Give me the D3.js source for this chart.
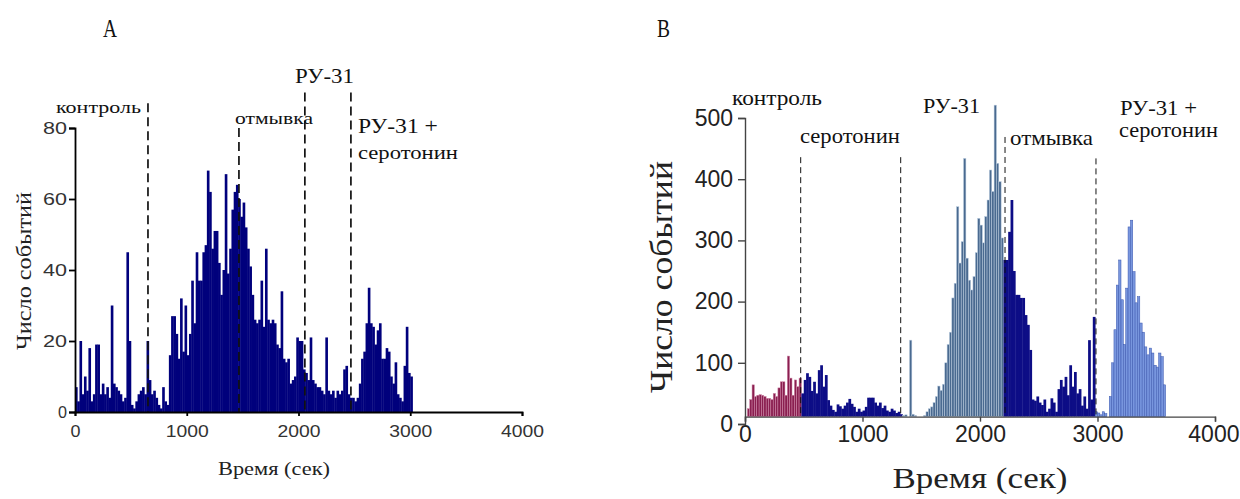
<!DOCTYPE html>
<html>
<head>
<meta charset="utf-8">
<script src="https://cdn.jsdelivr.net/npm/d3@7"></script>
<style>
  body { margin: 0; background: #fff; }
  svg { display: block; }
</style>
</head>
<body>
<div id="chart"></div>
<script>
const SERIF = "'Liberation Serif'";
const SANS = "'Liberation Sans'";

// ---- panel A : histogram, 20 s bins starting at 0 s
const binA = 20;
const countsA = [
  7, 3, 20, 5, 10, 6, 18, 3, 5, 19,
  19, 5, 8, 5, 7, 4, 30, 8, 7, 6,
  5, 3, 4, 45, 20, 2, 1, 3, 5, 6,
  7, 5, 20, 9, 5, 6, 4, 2, 1, 7,
  3, 2, 16, 27, 27, 22, 15, 32, 17, 30,
  16, 22, 37, 25, 45, 37, 37, 45, 47, 68,
  62, 46, 51, 51, 42, 33, 40, 67, 39, 46,
  57, 62, 64, 60, 55, 59, 52, 46, 41, 33,
  26, 25, 26, 37, 24, 46, 26, 25, 26, 25,
  19, 18, 34, 15, 14, 15, 8, 9, 10, 21,
  20, 20, 12, 11, 9, 21, 9, 8, 7, 7,
  6, 5, 21, 6, 5, 6, 4, 6, 5, 6,
  12, 13, 5, 4, 4, 3, 4, 8, 15, 17,
  25, 35, 25, 24, 19, 23, 25, 15, 15, 18,
  17, 10, 8, 14, 5, 4, 3, 13, 24, 11,
  10
];
const markersA = [653, 1467, 2057, 2469];     // dashed lines, seconds
const markerTopsA = [87, 80, 90, 90];         // where each dashed line starts (counts)
const labelsA = ["контроль", "отмывка", "РУ-31", "РУ-31 +", "серотонин"];
const ticksXA = [0, 1000, 2000, 3000, 4000];
const ticksYA = [0, 20, 40, 60, 80];

// ---- panel B : histogram, 20 s bins starting at 0 s
const binB = 20;
const countsB = [
  12, 25, 40, 64, 45, 47, 48, 47, 45, 42,
  42, 40, 50, 45, 59, 69, 69, 47, 111, 75,
  47, 72, 61, 75, 50, 72, 83, 77, 54, 69,
  50, 88, 96, 61, 80, 39, 30, 23, 20, 32,
  29, 25, 30, 35, 41, 33, 28, 20, 25, 20,
  22, 28, 43, 43, 43, 35, 30, 35, 26, 30,
  22, 20, 25, 22, 18, 20, 16, 14, 15, 12,
  137, 16, 14, 12, 10, 12, 14, 20, 25, 28,
  35, 45, 62, 55, 65, 100, 130, 150, 206, 230,
  355, 263, 298, 434, 271, 235, 219, 241, 280, 336,
  325, 296, 339, 366, 415, 380, 521, 426, 396, 304,
  268, 268, 314, 366, 250, 211, 211, 206, 206, 178,
  162, 121, 40, 38, 45, 35, 31, 40, 20, 25,
  42, 35, 20, 57, 72, 61, 77, 47, 96, 61,
  85, 50, 57, 30, 45, 25, 137, 40, 175, 20,
  18, 15, 20, 17, 12, 45, 100, 154, 227, 268,
  203, 130, 222, 322, 333, 249, 198, 208, 165, 150,
  126, 113, 124, 116, 96, 93, 116, 110, 64
];
const phaseStartsB = [0, 480, 1340, 2200, 2980];  // контроль, серотонин, РУ-31, отмывка, РУ-31 + серотонин
const markersB = [474, 1325, 2213, 2987];
const markerTopsB = [436, 436, 469, 434];
const labelsB = ["контроль", "серотонин", "РУ-31", "отмывка", "РУ-31 +", "серотонин"];
const ticksXB = [0, 1000, 2000, 3000, 4000];
const ticksYB = [0, 100, 200, 300, 400, 500];

const svg = d3.select("#chart").append("svg")
  .attr("width", 1240)
  .attr("height", 499);
svg.append("rect").attr("width", 1240).attr("height", 499).attr("fill", "#fff");

// serif text stretched to a given width (the source figure is scanned and stretched)
function note(g, str, x, y, size, len, anchor, rotate) {
  const t = g.append("text")
    .style("font-family", SERIF)
    .attr("font-size", size)
    .attr("fill", "#111")
    .attr("text-anchor", anchor || "start")
    .text(str);
  const w = t.node().getComputedTextLength();
  const sx = w > 0 ? len / w : 1;
  t.attr("transform", `translate(${x},${y})${rotate ? " rotate(-90)" : ""} scale(${sx},1)`);
  return t;
}

function styleAxis(g, color, width, fontSize, textColor) {
  g.attr("font-family", SANS);
  g.select(".domain").attr("stroke", color).attr("stroke-width", width);
  g.selectAll(".tick line").attr("stroke", color).attr("stroke-width", width);
  g.selectAll(".tick text")
    .attr("fill", textColor)
    .attr("font-size", fontSize);
}

// ================= panel A =================
const xA = d3.scaleLinear().domain([0, 4000]).range([75, 522]);
const yA = d3.scaleLinear().domain([0, 80]).range([412, 128]);
const gA = svg.append("g");

gA.selectAll(".barA")
  .data(countsA)
  .enter()
  .append("rect")
  .attr("class", "barA")
  .attr("x", (d, i) => xA(i * binA))
  .attr("width", xA(binA) - xA(0) + 0.4)
  .attr("y", d => yA(d))
  .attr("height", d => yA(0) - yA(d))
  .attr("fill", "#00007c");

gA.selectAll(".markA")
  .data(markersA)
  .enter()
  .append("line")
  .attr("class", "markA")
  .attr("x1", d => xA(d))
  .attr("x2", d => xA(d))
  .attr("y1", (d, i) => yA(markerTopsA[i]))
  .attr("y2", yA(0))
  .attr("stroke", "#111")
  .attr("stroke-width", 1.7)
  .attr("stroke-dasharray", "9,5");

const axAx = gA.append("g")
  .attr("transform", `translate(0,${yA(0)})`)
  .call(d3.axisBottom(xA).tickValues(ticksXA).tickSize(4).tickPadding(9).tickFormat(d3.format("d")));
styleAxis(axAx, "#000", 1.8, 17, "#333");

const axAy = gA.append("g")
  .attr("transform", `translate(${xA(0)},0)`)
  .call(d3.axisLeft(yA).tickValues(ticksYA).tickSize(6).tickPadding(2));
styleAxis(axAy, "#000", 1.8, 17, "#333");
axAy.selectAll(".tick text").attr("textLength", d => d < 10 ? 9 : 24).attr("lengthAdjust", "spacingAndGlyphs");
axAx.selectAll(".tick text").attr("textLength", d => d < 10 ? 10 : 43).attr("lengthAdjust", "spacingAndGlyphs");

note(gA, labelsA[0], 141, 113, 17, 85, "end");
note(gA, labelsA[1], 235, 124, 16, 78);
note(gA, labelsA[2], 295, 83, 21, 59);
note(gA, labelsA[3], 358, 133, 21, 80);
note(gA, labelsA[4], 358, 159, 19, 100);

note(gA, "Число событий", 31, 271, 22, 158, "middle", true).attr("fill", "#222");
note(gA, "Время (сек)", 274, 475, 19, 112, "middle").attr("fill", "#222");
note(gA, "A", 103, 37, 26, 14);

// ================= panel B =================
const xB = d3.scaleLinear().domain([0, 4000]).range([745, 1215]);
const yB = d3.scaleLinear().domain([0, 500]).range([424, 118]);
const baseB = yB(12);   // x axis is drawn a little above the zero line, as in the source
const gB = svg.append("g");

const phaseFill = ["#8a1f50", "#0d0d86", "#4a6a90", "#0d0d86", "#7896de"];
const phaseStroke = ["#cf8aa9", "none", "#bccde0", "none", "#3b56ae"];
const phaseOf = t => d3.bisectRight(phaseStartsB, t) - 1;

gB.selectAll(".barB")
  .data(countsB)
  .enter()
  .append("rect")
  .attr("class", "barB")
  .attr("x", (d, i) => xB(i * binB))
  .attr("width", (d, i) => xB(binB) - xB(0) + (phaseStroke[phaseOf(i * binB)] === "none" ? 0.4 : 0))
  .attr("y", d => Math.min(yB(d), baseB))
  .attr("height", d => Math.max(0, baseB - yB(d)))
  .attr("fill", (d, i) => phaseFill[phaseOf(i * binB)])
  .attr("stroke", (d, i) => phaseStroke[phaseOf(i * binB)])
  .attr("stroke-width", 0.5);

gB.selectAll(".markB")
  .data(markersB)
  .enter()
  .append("line")
  .attr("class", "markB")
  .attr("x1", d => xB(d))
  .attr("x2", d => xB(d))
  .attr("y1", (d, i) => yB(markerTopsB[i]))
  .attr("y2", baseB)
  .attr("stroke", "#111")
  .attr("stroke-width", 1)
  .attr("stroke-dasharray", "6,4");

const axBx = gB.append("g")
  .attr("transform", `translate(0,${baseB})`)
  .call(d3.axisBottom(xB).tickValues(ticksXB).tickSize(5).tickPadding(4).tickFormat(d3.format("d")));
styleAxis(axBx, "#444", 1.4, 23, "#222");
// keep the last label inside the picture
axBx.selectAll(".tick text").filter(d => d === 4000).attr("text-anchor", "end").attr("x", 24);

const axBy = gB.append("g")
  .attr("transform", `translate(${xB(0)},0)`)
  .call(d3.axisLeft(yB).tickValues(ticksYB).tickSize(7).tickPadding(5));
styleAxis(axBy, "#444", 1.4, 23, "#222");

note(gB, labelsB[0], 732, 105, 21, 90);
note(gB, labelsB[1], 800, 143, 21, 100);
note(gB, labelsB[2], 923, 113, 21, 57);
note(gB, labelsB[3], 1010, 145, 21, 83);
note(gB, labelsB[4], 1120, 115, 21, 77);
note(gB, labelsB[5], 1119, 137, 21, 99);

note(gB, "Число событий", 672, 277, 32, 232, "middle", true).attr("fill", "#222");
note(gB, "Время (сек)", 980, 488, 30, 175, "middle").attr("fill", "#222");
note(gB, "B", 657, 37, 26, 13);
</script>
</body>
</html>
